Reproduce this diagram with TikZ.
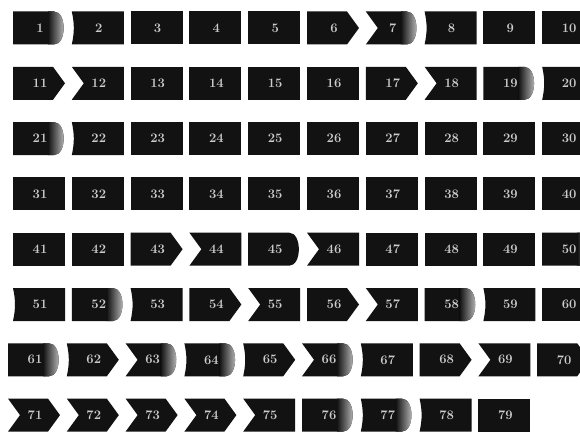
\documentclass[tikz,border=0pt]{standalone}
\usepackage{xcolor}
\usepackage{tikz}
\usepackage{amsmath, amssymb}

\tikzset{
  ficha/.style={fill=black!93},
  numero/.style={text=white!80!black, font=\bfseries\fontsize{13}{13}\selectfont},
}
% Bordes derechos (desde la esquina superior izquierda)
\def\derS{-- ++(52,0) -- ++(0,-33) -- ++(-52,0)}
\def\derP{-- ++(40,0) -- ++(12,-16.5) -- ++(-12,-16.5) -- ++(-40,0)}
\def\derG{-- ++(41,0) to[out=0,in=0] ++(0,-33) -- ++(-41,0)}
\let\derR\derG
% Bordes izquierdos (desde la esquina inferior izquierda)
\def\izqS{-- cycle}
\def\izqN{-- ++(12,16.5) -- cycle}
\def\izqC{to[out=78,in=-78] ++(0,33) -- cycle}

\begin{document}
\begin{tikzpicture}[x=1pt,y=1pt]
    % Marco de la hoja
    \clip (0,0) rectangle (580,437);
    \fill[white] (0,0) rectangle (580,437);

    % Dibujar las fichas numeradas (numero/borde izquierdo/borde derecho)
    \foreach \n/\iz/\de in {
      1/S/G, 2/C/S, 3/S/S, 4/S/S, 5/S/S, 6/S/P, 7/N/G, 8/C/S, 9/S/S, 10/S/S,
      11/S/P, 12/N/S, 13/S/S, 14/S/S, 15/S/S, 16/S/S, 17/S/P, 18/N/S, 19/S/G, 20/C/S,
      21/S/G, 22/C/S, 23/S/S, 24/S/S, 25/S/S, 26/S/S, 27/S/S, 28/S/S, 29/S/S, 30/S/S,
      31/S/S, 32/S/S, 33/S/S, 34/S/S, 35/S/S, 36/S/S, 37/S/S, 38/S/S, 39/S/S, 40/S/S,
      41/S/S, 42/S/S, 43/S/P, 44/N/S, 45/S/R, 46/N/S, 47/S/S, 48/S/S, 49/S/S, 50/S/G,
      51/C/S, 52/S/G, 53/C/S, 54/S/P, 55/N/S, 56/S/P, 57/N/S, 58/S/G, 59/C/S, 60/S/S,
      61/S/G, 62/C/P, 63/N/G, 64/C/G, 65/C/P, 66/N/G, 67/C/S, 68/S/P, 69/N/S, 70/S/P,
      71/N/P, 72/N/P, 73/N/P, 74/N/P, 75/N/S, 76/S/G, 77/C/G, 78/C/S, 79/S/S}{
      \pgfmathtruncatemacro\fila{(\n-1)/10}
      \pgfmathtruncatemacro\col{mod(\n-1,10)}
      \pgfmathsetmacro\xa{ifthenelse(\fila>5,8,13)+58.8*\col}
      \pgfmathsetmacro\ya{437-(28+55.3*\fila)+16.5}
      \expandafter\let\expandafter\pder\csname der\de\endcsname
      \expandafter\let\expandafter\pizq\csname izq\iz\endcsname
      \fill[ficha] (\xa,\ya) \pder \pizq;
      % extremo gris difuminado
      \if G\de
        \begin{scope}
          \clip (\xa,\ya) \pder \pizq;
          \shade[left color=black!93, right color=black!18] (\xa+35,\ya-34) rectangle (\xa+54,\ya+1);
        \end{scope}
      \fi
      \node[numero] (t\n) at (\xa+27,\ya-16.5) {\n};
    }
\end{tikzpicture}
\end{document}
